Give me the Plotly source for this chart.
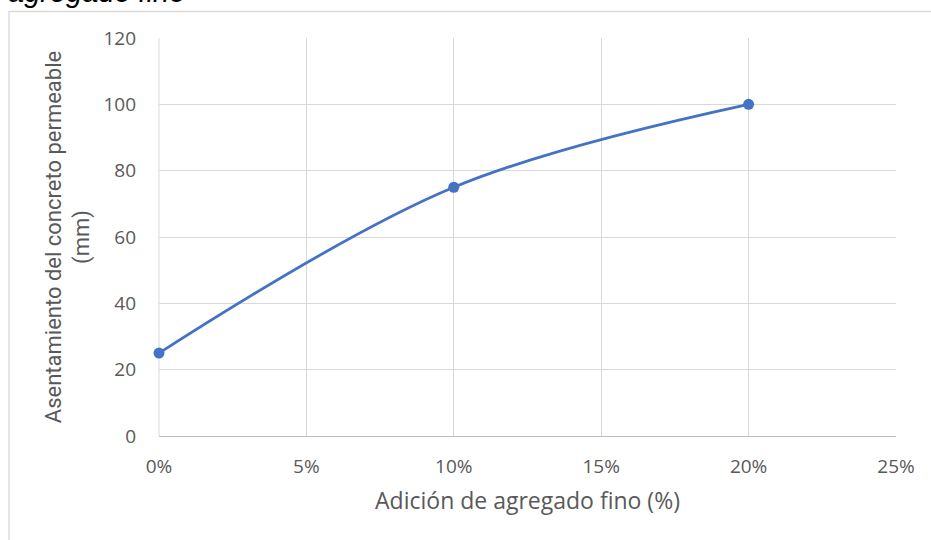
import plotly.graph_objects as go

# Adición de agregado fino vs. asentamiento
adicion = [0.00, 0.10, 0.20]
asentamiento = [25, 75, 100]

x_ticks = [0, 0.05, 0.10, 0.15, 0.20, 0.25]
x_labels = ["0%", "5%", "10%", "15%", "20%", "25%"]
y_ticks = [0, 20, 40, 60, 80, 100, 120]

W, H = 931, 540
ML, MR, MT, MB = 159, 35, 38, 104
pw, ph = W - ML - MR, H - MT - MB

def px_x(p):
    return (p - ML) / pw

def px_y(p):
    return (H - MB - p) / ph

tick_font = dict(family="Open Sans, Liberation Sans, sans-serif", size=19, color="#595959")

fig = go.Figure()
fig.add_trace(go.Scatter(
    x=adicion, y=asentamiento,
    mode="lines+markers",
    line=dict(color="#4472C4", width=2.8, shape="spline", smoothing=1.0),
    marker=dict(color="#4472C4", size=11),
    cliponaxis=False,
    showlegend=False,
))

fig.update_layout(
    width=W, height=H,
    margin=dict(l=ML, r=MR, t=MT, b=MB),
    paper_bgcolor="white", plot_bgcolor="white",
    xaxis=dict(
        range=[0, 0.25], tickvals=x_ticks, ticktext=x_labels,
        showgrid=True, gridcolor="#d9d9d9", gridwidth=1,
        showline=True, linecolor="#bfbfbf", linewidth=1.3, mirror=False,
        zeroline=False, ticks="", tickfont=tick_font, ticklabelstandoff=13,
        title=dict(text="Adición de agregado fino (%)",
                   font=dict(family="Open Sans, Liberation Sans, sans-serif", size=23, color="#595959"),
                   standoff=14),
    ),
    yaxis=dict(
        range=[0, 120], tickvals=y_ticks,
        showgrid=True, gridcolor="#d9d9d9", gridwidth=1,
        zeroline=False, showline=False, ticks="", tickfont=tick_font, ticklabelstandoff=22,
        title=dict(text="Asentamiento del concreto permeable<br>(mm)",
                   font=dict(family="Roboto, Liberation Sans, sans-serif", size=22, color="#595959"),
                   standoff=7),
    ),
    shapes=[
        # outer chart frame
        dict(type="rect", xref="paper", yref="paper",
             x0=px_x(9), x1=px_x(940), y0=px_y(548), y1=px_y(11.5),
             line=dict(color="#d9d9d9", width=1.3), fillcolor="rgba(0,0,0,0)", layer="below"),
        # plot-area left edge
        dict(type="line", xref="paper", yref="paper",
             x0=0, x1=0, y0=0, y1=1, line=dict(color="#d9d9d9", width=1), layer="below"),
    ],
    annotations=[
        dict(text="<i>agregado fino</i>", xref="paper", yref="paper",
             x=px_x(6), y=px_y(10), xanchor="left", yanchor="bottom",
             showarrow=False,
             font=dict(family="Liberation Sans, Arial, sans-serif", size=29, color="#000000"),
             ),
    ],
)

fig.write_html("out.html")
